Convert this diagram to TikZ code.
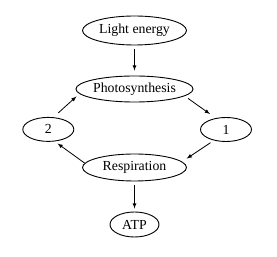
\documentclass[tikz,border=0pt]{standalone}
\usepackage{fontspec}
\setmainfont{Liberation Serif}
\usetikzlibrary{shapes.geometric}

\begin{document}
\begin{tikzpicture}[x=1pt, y=1pt, >=latex,
        oval/.style={draw, ellipse, line width=0.9pt, inner sep=0pt,
            font=\fontsize{13.8}{16}\selectfont},
        bigoval/.style={oval, minimum width=104pt, minimum height=27pt},
        smalloval/.style={oval, minimum width=51pt, minimum height=24pt},
        flow/.style={->, line width=0.8pt}]
    \useasboundingbox (0,0) rectangle (277,257);
    % ovals
    \node[bigoval, minimum height=29pt] (light) at (134.5,226.5) {Light energy};
    \node[bigoval, minimum height=26pt] (photo) at (134.5,168) {Photosynthesis};
    \node[smalloval] (two) at (48.3,127.6) {2};
    \node[smalloval] (one) at (226,127.5) {1};
    \node[bigoval] (resp) at (134.5,89.5) {Respiration};
    \node[smalloval, minimum width=49pt, minimum height=25pt] (atp) at (134.5,32.5) {ATP};
    % arrows
    \draw[flow, shorten <=4pt, shorten >=5pt] (light) -- (photo);
    \draw[flow, shorten <=4pt, shorten >=7pt] (photo.-8) -- (one.132);
    \draw[flow, shorten <=4pt, shorten >=5.5pt] (one.222) -- (resp.7);
    \draw[flow, shorten <=0pt, shorten >=3.5pt] (resp.175) -- (two.-62);
    \draw[flow, shorten <=6.5pt, shorten >=4pt] (two.67) -- (photo.185);
    \draw[flow, shorten <=4pt, shorten >=3pt] (resp) -- (atp);
\end{tikzpicture}
\end{document}
